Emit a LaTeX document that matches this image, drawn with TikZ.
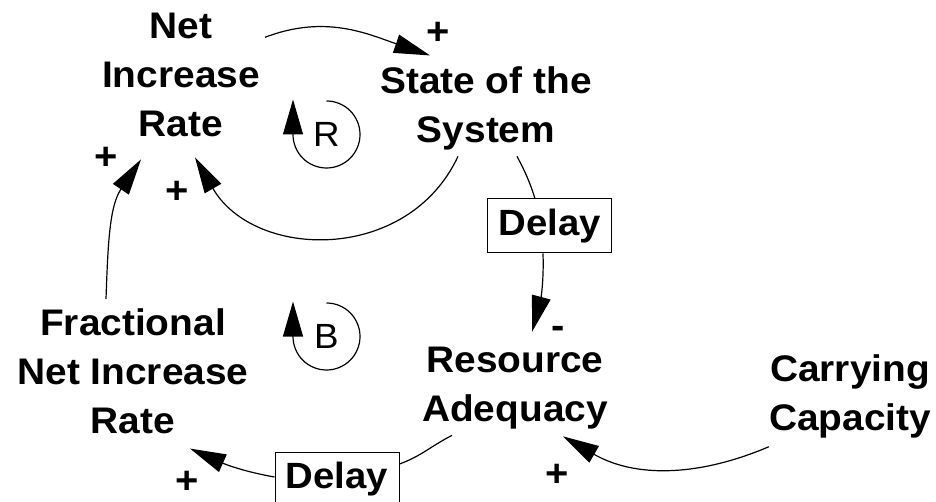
\documentclass[tikz,border=0pt]{standalone}
\usepackage{fontspec}
\setmainfont{Liberation Sans}[FakeStretch=1.05]
\usepackage{tikz}
\usetikzlibrary{arrows.meta,positioning}

\tikzset{
  var/.style={align=center, inner sep=0pt, font=\fontsize{37}{49}\selectfont\bfseries},
  delaybox/.style={draw, line width=1pt, minimum width=124pt, minimum height=54pt,
    inner sep=0pt, font=\fontsize{36.5}{40}\selectfont\bfseries},
  line/.style={line width=1.2pt},
  link/.style={line, -{Triangle[length=36pt,width=19pt]}},
  sign/.style={inner sep=0pt, font=\fontsize{38}{40}\selectfont\bfseries},
  loopsym/.style={inner sep=0pt, font=\fontsize{35}{40}\selectfont},
}

\begin{document}
\begin{tikzpicture}[x=1pt, y=1pt]
  \useasboundingbox (0,0) rectangle (936,-502);

  % variables
  \node [var] (nir) at (181,-75.3) {Net\\Increase\\Rate};
  \node [var] (sys) at (486,-108.4) {State of the\\System};
  \node [var] (ra) at (515,-388.1) {Resource\\Adequacy};
  \node [var] (cc) at (850,-396.8) {Carrying\\Capacity};
  \node [var] (fnir) at (133,-370.8) {Fractional\\Net Increase\\Rate};

  % delays
  \node [delaybox] (d1) at (549.5,-226) {Delay};
  \node [delaybox] (d2) at (337,-479) {Delay};

  % loop markers
  \node [loopsym] (lr) at (326.5,-134.5) {R};
  \node [loopsym] (lb) at (326.5,-336.5) {B};
  \draw [link,-{Triangle[length=35pt,width=20pt]}] ([shift={(0,33.5)}]lr.center)
    arc[start angle=90, end angle=-180, radius=33.5] -- ++(0,35);
  \draw [link,-{Triangle[length=35pt,width=20pt]}] ([shift={(0,33.5)}]lb.center)
    arc[start angle=90, end angle=-180, radius=33.5] -- ++(0,35);

  % links
  \draw [link] ([shift={(5,38)}]nir.east) to[out=21, in=161]
    ([shift={(50,11)}]sys.north west);
  \draw [link] ([shift={(-28,-6)}]sys.south) to[out=-115, in=-60, looseness=1.15]
    ([shift={(14,-20)}]nir.south);
  \draw [line] ([shift={(31,-6)}]sys.south) to[out=-62, in=108]
    ([shift={(-14.5,0)}]d1.north);
  \draw [link] ([shift={(-6.5,0)}]d1.south) to[out=-88, in=75]
    ([shift={(17,15)}]ra.north);
  \draw [link] ([shift={(0,-8)}]cc.south west) to[out=-157, in=-30]
    ([shift={(48,-7)}]ra.south);
  \draw [line] ([shift={(-63,-6)}]ra.south) to[out=-153, in=20]
    ([shift={(0,15)}]d2.east);
  \draw [link] ([shift={(0,2)}]d2.west) to[out=170, in=-24]
    ([shift={(57,-15)}]fnir.south);
  \draw [link] ([shift={(-27,9)}]fnir.north) to[out=88, in=-124]
    ([shift={(-40,-22)}]nir.south);

  % polarities
  \node [sign] (p1) at (438,-33) {+};
  \node [sign] (p2) at (106,-158) {+};
  \node [sign] (p3) at (177,-192) {+};
  \node [sign] (m1) at (558,-332) {-};
  \node [sign] (p4) at (557,-475) {+};
  \node [sign] (p5) at (187,-482) {+};
\end{tikzpicture}
\end{document}
